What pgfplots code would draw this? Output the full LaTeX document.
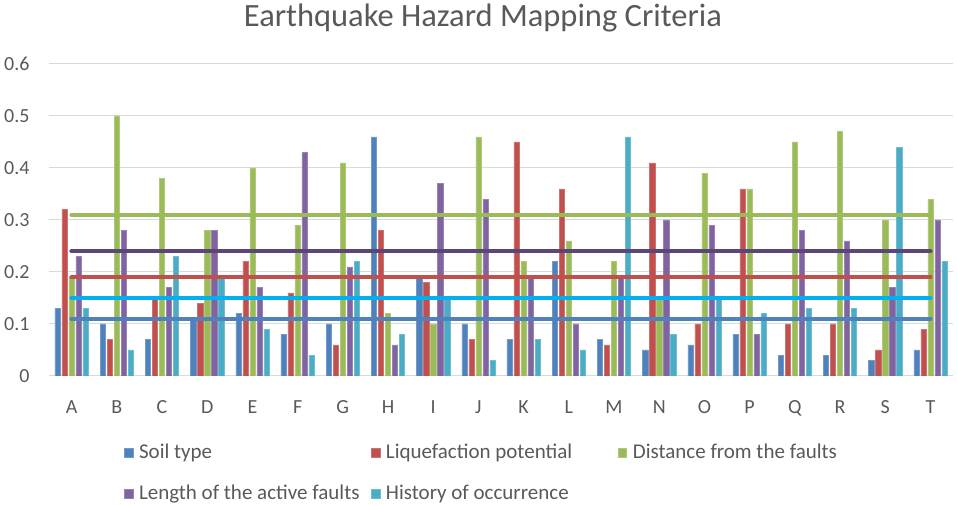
\documentclass[border=0pt]{standalone}
\usepackage{pgfplots}
\usepackage{pgfplotstable}
\pgfplotsset{compat=1.18}
\usepackage{fontspec}
\setmainfont{Carlito}
\definecolor{cBlue}{HTML}{4F81BD}
\definecolor{cRed}{HTML}{C0504D}
\definecolor{cGreen}{HTML}{9BBB59}
\definecolor{cPurple}{HTML}{8064A2}
\definecolor{cCyan}{HTML}{4BACC6}
\definecolor{lPurple}{HTML}{5B4677}
\definecolor{lCyan}{HTML}{00B0F0}
\definecolor{txt}{HTML}{595959}
\definecolor{gridc}{HTML}{D9D9D9}
\pgfplotstableread{
x cat soil liq dist len hist
0 A 0.13 0.32 0.19 0.23 0.13
1 B 0.10 0.07 0.50 0.28 0.05
2 C 0.07 0.15 0.38 0.17 0.23
3 D 0.11 0.14 0.28 0.28 0.19
4 E 0.12 0.22 0.40 0.17 0.09
5 F 0.08 0.16 0.29 0.43 0.04
6 G 0.10 0.06 0.41 0.21 0.22
7 H 0.46 0.28 0.12 0.06 0.08
8 I 0.19 0.18 0.10 0.37 0.15
9 J 0.10 0.07 0.46 0.34 0.03
10 K 0.07 0.45 0.22 0.19 0.07
11 L 0.22 0.36 0.26 0.10 0.05
12 M 0.07 0.06 0.22 0.19 0.46
13 N 0.05 0.41 0.15 0.30 0.08
14 O 0.06 0.10 0.39 0.29 0.15
15 P 0.08 0.36 0.36 0.08 0.12
16 Q 0.04 0.10 0.45 0.28 0.13
17 R 0.04 0.10 0.47 0.26 0.13
18 S 0.03 0.05 0.30 0.17 0.44
19 T 0.05 0.09 0.34 0.30 0.22
}\datatable
\begin{document}
\begin{tikzpicture}
\useasboundingbox (0,0) rectangle (957pt,505pt);
\begin{axis}[
  at={(49pt,129pt)}, anchor=south west,
  scale only axis, width=904pt, height=312pt,
  xmin=-0.5, xmax=19.5, ymin=0, ymax=0.6,
  xtick=data, xticklabels={A,B,C,D,E,F,G,H,I,J,K,L,M,N,O,P,Q,R,S,T},
  ytick={0,0.1,0.2,0.3,0.4,0.5,0.6},
  /pgf/number format/assume math mode=true,
  ymajorgrids, grid style={draw=gridc, line width=1pt},
  axis line style={draw=none},
  major tick length=0pt,
  tick label style={font=\fontsize{20}{23}\selectfont, text=txt},
  yticklabel style={xshift=-16pt},
  xticklabel style={yshift=-21pt},
  title={Earthquake Hazard Mapping Criteria},
  title style={at={(axis description cs:0.48,1)}, anchor=base, yshift=31pt,
    font=\fontsize{32.5}{36}\selectfont, text=txt},
  ybar=1.7pt, bar width=5.3pt,
  legend columns=3,
  legend style={at={(0.0796,-0.205)}, anchor=north west, draw=none,
    font=\fontsize{21}{24}\selectfont, text=txt, row sep=21pt,
    /tikz/every odd column/.append style={column sep=4pt}},
  legend cell align=left,
  legend image code/.code={\fill[#1] (0pt,-4.5pt) rectangle (8.5pt,4.5pt);},
]
\addplot[fill=cBlue, draw=cBlue!80!white] table[x=x,y=soil]{\datatable};
\addlegendentry{\makebox[230pt][l]{Soil type}}
\addplot[fill=cRed, draw=cRed!80!white] table[x=x,y=liq]{\datatable};
\addlegendentry{\makebox[230pt][l]{Liquefaction potential}}
\addplot[fill=cGreen, draw=cGreen!80!white] table[x=x,y=dist]{\datatable};
\addlegendentry{\makebox[230pt][l]{Distance from the faults}}
\addplot[fill=cPurple, draw=cPurple!80!white] table[x=x,y=len]{\datatable};
\addlegendentry{\makebox[230pt][l]{Length of the active faults}}
\addplot[fill=cCyan, draw=cCyan!80!white] table[x=x,y=hist]{\datatable};
\addlegendentry{\makebox[230pt][l]{History of occurrence}}
\addplot[sharp plot, forget plot, draw=cGreen, line width=4.5pt, line cap=round] coordinates {(0,0.31) (19,0.31)};
\addplot[sharp plot, forget plot, draw=lPurple, line width=4.5pt, line cap=round] coordinates {(0,0.24) (19,0.24)};
\addplot[sharp plot, forget plot, draw=cRed, line width=4.5pt, line cap=round] coordinates {(0,0.19) (19,0.19)};
\addplot[sharp plot, forget plot, draw=lCyan, line width=4.5pt, line cap=round] coordinates {(0,0.15) (19,0.15)};
\addplot[sharp plot, forget plot, draw=cBlue, line width=4.5pt, line cap=round] coordinates {(0,0.11) (19,0.11)};
\end{axis}
\end{tikzpicture}
\end{document}
